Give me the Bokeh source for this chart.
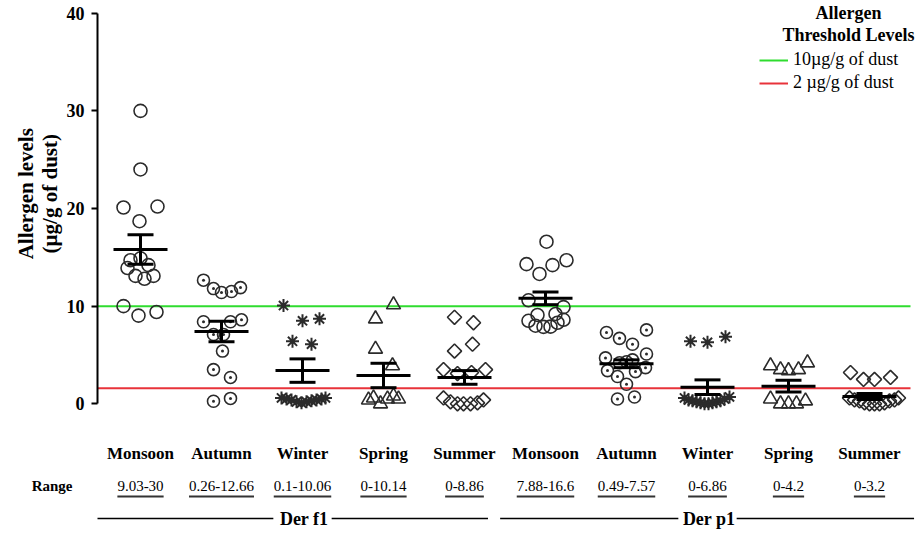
import math
from bokeh.plotting import figure
from bokeh.layouts import column
from bokeh.models import (Range1d, FixedTicker, Label, Legend, LegendItem,
                          ColumnDataSource, LinearAxis)
from bokeh.embed import file_html
from bokeh.resources import INLINE
from bokeh.core.properties import value

# ---------------- data ----------------
seasons = ["Monsoon", "Autumn", "Winter", "Spring", "Summer",
           "Monsoon", "Autumn", "Winter", "Spring", "Summer"]
ranges = ["9.03-30", "0.26-12.66", "0.1-10.06", "0-10.14", "0-8.86",
          "7.88-16.6", "0.49-7.57", "0-6.86", "0-4.2", "0-3.2"]
allergens = ["Der f1", "Der p1"]

f1_monsoon = [30.0, 24.0, 20.1, 20.2, 18.7, 14.7, 14.9, 14.2, 13.9, 13.1, 12.8, 13.1, 10.0, 9.03, 9.4]
f1_autumn = [12.66, 11.8, 11.4, 11.5, 11.9, 8.4, 8.4, 8.6, 7.1, 7.1, 5.4, 3.5, 2.7, 0.26, 0.55]
f1_winter = [10.06, 8.5, 8.7, 6.4, 6.1, 0.6, 0.5, 0.4, 0.2, 0.1, 0.2, 0.3, 0.4, 0.5, 0.6]
f1_spring = [10.14, 8.7, 5.6, 3.9, 0.4, 0.6, 0.0, 0.5, 0.8, 0.5]
f1_summer = [8.86, 8.3, 5.4, 6.1, 3.5, 3.5, 3.1, 3.2, 0.6, 0.2, 0.0, 0.0, 0.0, 0.1, 0.4]
p1_monsoon = [16.6, 14.3, 13.3, 14.2, 14.7, 10.6, 9.9, 9.1, 9.2, 8.5, 8.6, 8.0, 7.88, 7.9, 8.3]
p1_autumn = [7.3, 6.7, 6.1, 7.57, 4.7, 4.5, 5.1, 4.2, 4.3, 3.4, 2.8, 3.3, 3.7, 2.0, 0.49, 0.7]
p1_winter = [6.4, 6.3, 6.86, 0.6, 0.4, 0.3, 0.2, 0.1, 0.0, 0.0, 0.1, 0.2, 0.3, 0.5, 0.7]
p1_spring = [3.9, 3.5, 3.4, 3.5, 4.2, 0.5, 0.0, 0.0, 0.0, 0.3]
p1_summer = [3.2, 2.5, 2.5, 2.7, 0.6, 0.4, 0.3, 0.1, 0.0, 0.0, 0.0, 0.1, 0.3, 0.4, 0.6]

group_values = [f1_monsoon, f1_autumn, f1_winter, f1_spring, f1_summer,
                p1_monsoon, p1_autumn, p1_winter, p1_spring, p1_summer]

# horizontal scatter of each point (px from group centre)
group_offsets = [
    [0, 0, -17, 17, -1, -10, 0, 8, -13, -5, 4, 13, -17, -2, 16],
    [-18, -8, 0, 10, 19, -18, 9, 20, -8, 2, 1, -8, 9, -8, 9],
    [-19, 0, 17, -10, 9, -21, -16, -11, -6, -1, 4, 9, 14, 19, 23],
    [10, -8, -8, 9, -15, -10, -3, 4, 10, 15],
    [-10, 9, -10, 8, -21, 21, -7, 7, -21, -14, -7, -1, 6, 13, 19],
    [1, -19, -6, 7, 21, -17, 18, -8, 10, -17, 18, -10, -2, 5, 12],
    [-20, -7, 6, 20, -21, 6, 20, -7, 0, -19, -9, 9, 19, 0, -9, 8],
    [-17, 0, 18, -23, -19, -15, -11, -7, -3, 1, 5, 9, 13, 17, 22],
    [-18, -8, 0, 10, 19, -18, -8, 0, 8, 17],
    [-19, -6, 5, 21, -20, -15, -10, -5, 0, 5, 10, 15, 20, 25, 29],
]

means = [15.8, 7.4, 3.4, 2.9, 2.7, 10.8, 4.1, 1.7, 1.8, 0.75]
sems = [1.5, 1.05, 1.2, 1.25, 0.7, 0.65, 0.4, 0.75, 0.6, 0.3]

GREEN_T = 10.0
RED_T = 1.6

markers = ["circle", "circle_dot", "asterisk", "triangle", "square"] * 2
msizes = [13, 12, 13, 14, 10] * 2
mangles = [0, 0, 0, 0, math.pi / 4] * 2

# ---------------- layout constants ----------------
PX_X = 81.0       # px per group
PX_Y = 9.765      # px per unit on y
FONT = "Liberation Serif"
W = 920
TOP_H = 416
BOT_H = 115
LEFT, RIGHT, TOP = 97, 2, 2
frame_w = W - LEFT - RIGHT
frame_h = TOP_H - TOP
y0 = (403.3 - TOP_H) / PX_Y
y1 = y0 + frame_h / PX_Y
x0 = 1 - 43.0 / PX_X
x1 = x0 + frame_w / PX_X
NB = "\u00a0" * 6   # lifts the rotated axis titles a little above the frame centre


def ypx(page_y):
    return (403.3 - page_y) / PX_Y


def xpx(page_x):
    return 1 + (page_x - 140) / PX_X


p = figure(width=W, height=TOP_H, output_backend="svg", toolbar_location=None,
           x_range=Range1d(x0, x1), y_range=Range1d(y0, y1),
           x_axis_location=None, min_border_left=LEFT, min_border_right=RIGHT,
           min_border_top=TOP, min_border_bottom=0)
p.outline_line_color = None
p.grid.visible = False
p.background_fill_color = "white"

ax = p.yaxis[0]
ax.ticker = FixedTicker(ticks=[0, 10, 20, 30, 40])
ax.bounds = (0, 40)
ax.axis_line_width = 2
ax.axis_line_color = "black"
ax.major_tick_line_width = 2
ax.major_tick_out = 6
ax.major_tick_in = 0
ax.minor_tick_line_color = None
ax.major_label_text_font = FONT
ax.major_label_text_font_style = "bold"
ax.major_label_text_font_size = "18px"
ax.major_label_text_color = "black"
ax.major_label_standoff = 7
ax.axis_label = NB + "(\u00b5g/g of dust)"
ax.axis_label_text_font = FONT
ax.axis_label_text_font_style = "bold"
ax.axis_label_text_font_size = "21px"
ax.axis_label_text_color = "black"
ax.axis_label_standoff = 2

ax2 = LinearAxis(ticker=FixedTicker(ticks=[]), axis_label=NB + "Allergen levels",
                 axis_line_color=None, major_tick_line_color=None,
                 minor_tick_line_color=None, major_label_text_font_size="0px",
                 axis_label_text_font=FONT, axis_label_text_font_style="bold",
                 axis_label_text_font_size="21px", axis_label_text_color="black",
                 axis_label_standoff=-3)
p.add_layout(ax2, "left")

# threshold lines
xl_end = xpx(910)
g_line = p.line(x=[x0, xl_end], y=[GREEN_T, GREEN_T], line_color="#2fdc2f", line_width=2)
r_line = p.line(x=[x0, xl_end], y=[RED_T, RED_T], line_color="#e8333a", line_width=2)

# points
for i, (vals, offs) in enumerate(zip(group_values, group_offsets)):
    xc = i + 1
    xs = [xc + o / PX_X for o in offs]
    src = ColumnDataSource(dict(x=xs, y=vals))
    lw = 2 if markers[i] == "asterisk" else 1.6
    p.scatter("x", "y", source=src, marker=markers[i], size=msizes[i], angle=mangles[i],
              fill_alpha=0, line_color="#2b2b2b", line_width=lw)

# mean +- SEM
xc = [i + 1 for i in range(10)]
mhw = 27 / PX_X
chw = 13 / PX_X
p.segment(x0=[x - mhw for x in xc], y0=means, x1=[x + mhw for x in xc], y1=means,
          line_color="black", line_width=3)
p.segment(x0=xc, y0=[m - s for m, s in zip(means, sems)], x1=xc,
          y1=[m + s for m, s in zip(means, sems)], line_color="black", line_width=3)
for sgn in (-1, 1):
    ys = [m + sgn * s for m, s in zip(means, sems)]
    p.segment(x0=[x - chw for x in xc], y0=ys, x1=[x + chw for x in xc], y1=ys,
              line_color="black", line_width=3)

# legend
for txt, py in (("Allergen", 12), ("Threshold Levels", 34)):
    p.add_layout(Label(x=xpx(848), y=ypx(py), text=txt, text_font=FONT,
                       text_font_style="bold", text_font_size="18px",
                       text_align="center", text_baseline="middle", text_color="black"))

legend = Legend(items=[LegendItem(label="10\u00b5g/g of dust", renderers=[g_line]),
                       LegendItem(label="2 \u00b5g/g of dust", renderers=[r_line])],
                location=(662, TOP_H - 93), padding=0, margin=0, spacing=2,
                glyph_width=29, glyph_height=20, label_height=20, label_standoff=5,
                label_text_font=FONT, label_text_font_size="18px",
                label_text_color="black", border_line_color=None,
                background_fill_alpha=0)
p.add_layout(legend)

# ---------------- bottom panel: category labels ----------------
def by(page_y):
    return page_y - TOP_H


range_y = by(485)
b = figure(width=W, height=BOT_H, output_backend="svg", toolbar_location=None,
           x_range=Range1d(x0, x1), y_range=Range1d(BOT_H, 0),
           x_axis_location=None,
           min_border_left=LEFT, min_border_right=RIGHT, min_border_top=0, min_border_bottom=0)
b.outline_line_color = None
b.grid.visible = False
bax = b.yaxis[0]
bax.ticker = FixedTicker(ticks=[range_y])
bax.major_label_overrides = {range_y: "Range"}
bax.axis_line_color = None
bax.major_tick_line_color = None
bax.minor_tick_line_color = None
bax.major_tick_out = 0
bax.major_label_standoff = 25
bax.major_label_text_font = FONT
bax.major_label_text_font_style = "bold"
bax.major_label_text_font_size = "15px"
bax.major_label_text_color = "black"

b.text(x=xc, y=[by(453)] * 10, text=seasons, text_font=value(FONT),
       text_font_style="bold", text_font_size="17px", text_align="center",
       text_baseline="middle", text_color="black")

b.text(x=xc, y=[range_y] * 10, text=ranges, text_font=value(FONT),
       text_font_size="15px", text_align="center", text_baseline="middle",
       text_color="black")
cw = {".": 0.25, "-": 0.333}
widths = [sum(cw.get(c, 0.5) for c in r) * 15 / PX_X for r in ranges]
b.segment(x0=[x - w / 2 for x, w in zip(xc, widths)], y0=[by(496)] * 10,
          x1=[x + w / 2 for x, w in zip(xc, widths)], y1=[by(496)] * 10,
          line_color="#333333", line_width=2)

yb = by(518)
for k, name in enumerate(allergens):
    first = 1 + 5 * k
    mid = first + 2
    left = first - 0.56
    right = first + 4 + (0.29 if k == 0 else 0.55)
    gap = 0.36
    b.segment(x0=[left, mid + gap], y0=[yb, yb], x1=[mid - gap, right], y1=[yb, yb],
              line_color="black", line_width=1.5)
    b.text(x=[mid + 0.02], y=[yb], text=[name], text_font=value(FONT),
           text_font_style="bold", text_font_size="18px", text_align="center",
           text_baseline="middle", text_color="black")

layout = column(p, b, spacing=0)
open("out.html", "w").write(file_html(layout, INLINE))
